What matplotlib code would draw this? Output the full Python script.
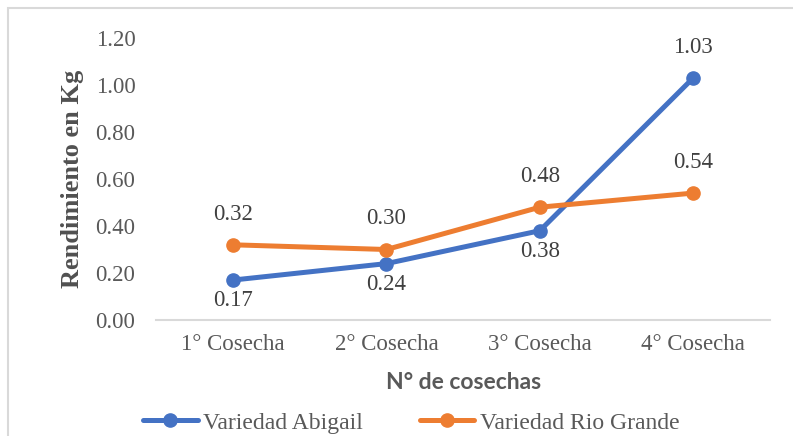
import matplotlib.pyplot as plt
from matplotlib.patches import Rectangle

cosechas = ["1° Cosecha", "2° Cosecha", "3° Cosecha", "4° Cosecha"]
abigail = [0.17, 0.24, 0.38, 1.03]
rio_grande = [0.32, 0.30, 0.48, 0.54]
yticks = [0.0, 0.2, 0.4, 0.6, 0.8, 1.0, 1.2]

azul = "#4472C4"
naranja = "#ED7D31"
gris = "#595959"

plt.rcParams['font.family'] = ['Liberation Serif', 'DejaVu Serif']

fig = plt.figure(figsize=(7.93, 4.36), dpi=100)
ax = fig.add_axes([0.197, 0.266, 0.774, 0.647])

x = list(range(len(cosechas)))
ax.plot(x, abigail, color=azul, lw=3.6, marker='o', ms=9.5, label="Variedad Abigail",
        solid_capstyle='round')
ax.plot(x, rio_grande, color=naranja, lw=3.6, marker='o', ms=9.5, label="Variedad Rio Grande",
        solid_capstyle='round')

# etiquetas de datos: Abigail debajo salvo el ultimo punto, Rio Grande encima
for i, v in enumerate(abigail):
    off = 22 if i == 3 else -15
    ax.annotate(f"{v:.2f}", (i, v), xytext=(0, off), textcoords='offset points',
                ha='center', va='center', fontsize=16.5, color="#404040")
for i, v in enumerate(rio_grande):
    ax.annotate(f"{v:.2f}", (i, v), xytext=(0, 22), textcoords='offset points',
                ha='center', va='center', fontsize=16.5, color="#404040")

ax.set_xlim(-0.5, 3.5)
ax.set_ylim(0, 1.2)
ax.set_xticks(x)
ax.set_xticklabels(cosechas)
ax.set_yticks(yticks)
ax.set_yticklabels([f"{t:.2f}" for t in yticks])
ax.tick_params(length=0, labelsize=16.5, labelcolor=gris, pad=10)
ax.tick_params(axis='y', pad=15)
for s in ['top', 'right', 'left']:
    ax.spines[s].set_visible(False)
ax.spines['bottom'].set_color("#D9D9D9")
ax.spines['bottom'].set_linewidth(1.5)

ax.set_ylabel("Rendimiento en Kg", fontsize=19, fontweight='bold', color="#505050", labelpad=8)
ax.set_xlabel("N° de cosechas", fontsize=16.5, fontweight='bold', color=gris,
              family=['Lato', 'DejaVu Sans'], labelpad=12)

leg = fig.legend(loc='center', bbox_to_anchor=(0.519, 0.03), ncol=2, frameon=False,
                 fontsize=17, handlelength=2.3, columnspacing=2.4, handletextpad=0.25,
                 borderpad=0)
for t in leg.get_texts():
    t.set_color(gris)

fig.patches.append(Rectangle((8 / 793, -0.1), 1.2, 1.1 - 8 / 436, transform=fig.transFigure,
                             fill=False, edgecolor="#D9D9D9", lw=1.5))

fig.savefig("out.png", dpi=100)
